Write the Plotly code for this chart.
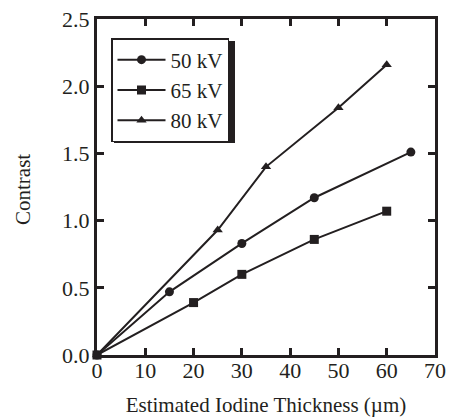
import plotly.graph_objects as go

series_names = ["50 kV", "65 kV", "80 kV"]
x_50 = [0, 15, 30, 45, 65]
y_50 = [0.0, 0.47, 0.83, 1.17, 1.51]
x_65 = [0, 20, 30, 45, 60]
y_65 = [0.0, 0.39, 0.60, 0.86, 1.07]
x_80 = [0, 25, 35, 50, 60]
y_80 = [0.0, 0.93, 1.40, 1.84, 2.16]
x_ticks = [0, 10, 20, 30, 40, 50, 60, 70]
y_ticks = [0.0, 0.5, 1.0, 1.5, 2.0, 2.5]

FONT = "Liberation Serif"
INK = "#231f20"
symbols = ["circle", "square", "triangle-up"]
xs = [x_50, x_65, x_80]
ys = [y_50, y_65, y_80]

fig = go.Figure()
for name, xv, yv, sym in zip(series_names, xs, ys, symbols):
    fig.add_trace(go.Scatter(
        x=xv, y=yv, name=name, mode="lines+markers",
        line=dict(color=INK, width=2),
        marker=dict(symbol=sym, size=9, color=INK),
        cliponaxis=False,
    ))

axis_common = dict(
    showline=True, linecolor=INK, linewidth=3, mirror="ticks",
    ticks="inside", ticklen=7, tickwidth=2.5, tickcolor=INK,
    showgrid=False, zeroline=False, automargin=False,
    tickfont=dict(family=FONT, size=22, color=INK),
    title_font=dict(family=FONT, size=21, color=INK),
)

fig.update_xaxes(range=[0, 70], tickvals=x_ticks, ticktext=[str(v) for v in x_ticks],
                 ticklabelstandoff=-6,
                 title_text="Estimated Iodine Thickness (µm)", **axis_common)
fig.update_yaxes(range=[0, 2.5], tickvals=y_ticks, ticktext=[f"{v:.1f}" for v in y_ticks],
                 **axis_common)

W, H = 449, 418
# plot area in page pixels: x 97..435, y 19..355
L, T = 97, 19
R = W - 435
B = H - 355
pw, ph = W - L - R, H - T - B

def px2paper(x, y):
    return (x - L) / pw, (H - B - y) / ph

ax, ay = px2paper(23, 190)
fig.add_annotation(text="Contrast", xref="paper", yref="paper", x=ax, y=ay,
                   textangle=-90, showarrow=False, xanchor="center", yanchor="middle",
                   font=dict(family=FONT, size=21, color=INK))

# legend box (page pixels) and its drop shadow
lx0, ly0, lx1, ly1 = 111, 38, 232, 140
sx0, sy0 = px2paper(lx0 + 3, ly1 + 3)
sx1, sy1 = px2paper(lx1 + 3, ly0 + 3)
fig.add_shape(type="rect", xref="paper", yref="paper", x0=sx0, y0=sy0, x1=sx1, y1=sy1,
              fillcolor=INK, line=dict(width=0), layer="above")

gx, gy = px2paper(lx0, ly0)
fig.update_layout(
    width=W, height=H,
    margin=dict(l=L, r=R, t=T, b=B),
    plot_bgcolor="white", paper_bgcolor="white",
    font=dict(family=FONT, size=20, color=INK),
    legend=dict(
        x=gx, y=gy, xanchor="left", yanchor="top",
        bgcolor="white", bordercolor=INK, borderwidth=1.5,
        font=dict(family=FONT, size=21, color=INK),
        itemwidth=48, tracegroupgap=0,
    ),
    showlegend=True,
)

fig.write_html("out.html", config={"displayModeBar": False},
               post_script="document.body.style.margin='0';document.body.style.overflow='hidden';")
